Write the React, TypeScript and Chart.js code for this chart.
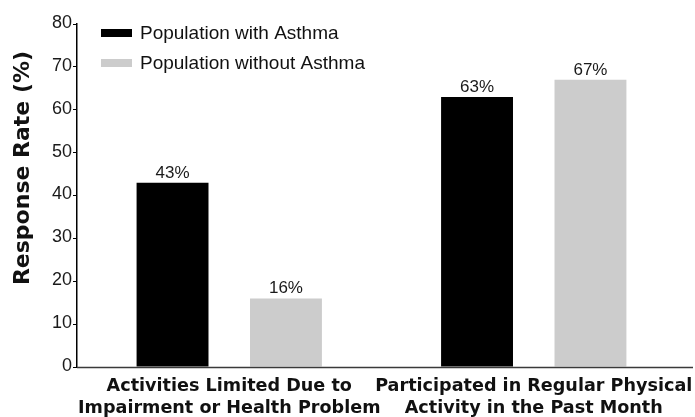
import React, { useEffect, useRef } from "react";
import { Chart, registerables } from "chart.js";

Chart.register(...registerables);

const categories: string[][] = [
  ["Activities Limited Due to", "Impairment or Health Problem"],
  ["Participated in Regular Physical", "Activity in the Past Month"],
];
const withAsthma = [43, 63];
const withoutAsthma = [16, 67];
const seriesLabels = ["Population with Asthma", "Population without Asthma"];
const yTicks = [0, 10, 20, 30, 40, 50, 60, 70, 80];
const yTitle = "Response Rate (%)";

const REG = "'Liberation Sans', Arial, sans-serif";
const BOLD = "'DejaVu Sans', sans-serif";

const overlay = {
  id: "overlay",
  afterDatasetsDraw(chart: any) {
    const ctx = chart.ctx;
    const area = chart.chartArea;
    ctx.save();
    // x axis line extended
    ctx.strokeStyle = "#3a3a3a";
    ctx.lineWidth = 1.5;
    ctx.beginPath();
    ctx.moveTo(area.left, area.bottom + 0.5);
    ctx.lineTo(693, area.bottom + 0.5);
    ctx.stroke();
    // data labels
    ctx.fillStyle = "#1a1a1a";
    ctx.font = `17px ${REG}`;
    ctx.textAlign = "center";
    ctx.textBaseline = "alphabetic";
    chart.data.datasets.forEach((ds: any, di: number) => {
      const meta = chart.getDatasetMeta(di);
      meta.data.forEach((bar: any, i: number) => {
        ctx.fillText(ds.data[i] + "%", bar.x, bar.y - 5);
      });
    });
    // legend
    chart.data.datasets.forEach((ds: any, di: number) => {
      const y = 33 + di * 30;
      ctx.fillStyle = ds.backgroundColor;
      ctx.fillRect(101, y - 4, 31, 8);
      ctx.fillStyle = "#111";
      ctx.font = `19px ${REG}`;
      ctx.textAlign = "left";
      ctx.textBaseline = "middle";
      ctx.fillText(ds.label, 140, y + 1);
    });
    // y title
    ctx.translate(23, 168);
    ctx.rotate(-Math.PI / 2);
    ctx.fillStyle = "#111";
    ctx.font = `bold 22px ${BOLD}`;
    ctx.textAlign = "center";
    ctx.textBaseline = "middle";
    ctx.fillText(yTitle, 0, 0);
    ctx.restore();
  },
};

export default function App() {
  const ref = useRef<HTMLCanvasElement>(null);
  useEffect(() => {
    if (!ref.current) return;
    const chart = new Chart(ref.current, {
      type: "bar",
      data: {
        labels: categories as any,
        datasets: [
          {
            label: seriesLabels[0],
            data: withAsthma,
            backgroundColor: "#000000",
            categoryPercentage: 0.745,
            barPercentage: 0.634,
          },
          {
            label: seriesLabels[1],
            data: withoutAsthma,
            backgroundColor: "#cccccc",
            categoryPercentage: 0.745,
            barPercentage: 0.634,
          },
        ],
      },
      options: {
        animation: false,
        responsive: false,
        layout: { padding: { top: 24, right: 9, left: 0, bottom: 0 } },
        plugins: { legend: { display: false }, tooltip: { enabled: false } },
        scales: {
          x: {
            grid: { display: false, drawTicks: false },
            border: { display: false },
            ticks: {
              color: "#111",
              padding: 8,
              maxRotation: 0,
              autoSkip: false,
              font: { family: BOLD, weight: "bold", size: 17.6, lineHeight: 1.25 },
            },
            afterFit: (s: any) => {
              s.height = 50;
              s.paddingLeft = 0;
              s.paddingRight = 0;
            },
          },
          y: {
            min: 0,
            max: 80,
            afterBuildTicks: (s: any) => {
              s.ticks = yTicks.map((v) => ({ value: v }));
            },
            grid: {
              display: true,
              drawOnChartArea: false,
              drawTicks: true,
              tickLength: 4,
              color: "#000",
              lineWidth: 1,
            },
            border: { display: true, color: "#000", width: 1.5 },
            ticks: {
              color: "#1a1a1a",
              padding: 1,
              labelOffset: -1,
              font: { family: REG, size: 18 },
            },
            afterFit: (s: any) => {
              s.width = 77;
            },
          },
        },
      },
      plugins: [overlay],
    });
    return () => chart.destroy();
  }, []);
  return (
    <div style={{ position: "fixed", left: 0, top: 0, width: 695, height: 417, background: "#fff" }}>
      <canvas ref={ref} width={695} height={417} style={{ display: "block" }} />
    </div>
  );
}
